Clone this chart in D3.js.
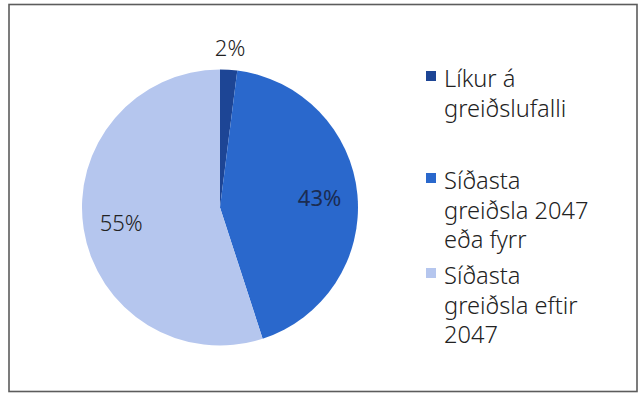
<!DOCTYPE html>
<html>
<head>
<meta charset="utf-8">
<script src="https://cdn.jsdelivr.net/npm/d3@7"></script>
<style>
  html, body { margin: 0; padding: 0; background: #fff; }
  svg { display: block; }
  text { font-family: "Noto Sans", "DejaVu Sans", sans-serif; font-weight: 300; }
</style>
</head>
<body>
<svg id="chart" width="640" height="394"></svg>
<script>
// Shares of the loan portfolio (percent)
const categories = ["Líkur á greiðslufalli", "Síðasta greiðsla 2047 eða fyrr", "Síðasta greiðsla eftir 2047"];
const values = [2, 43, 55];
const valueLabels = ["2%", "43%", "55%"];
// Legend text, one array of lines per category
const legendLines = [
  ["Líkur á", "greiðslufalli"],
  ["Síðasta", "greiðsla 2047", "eða fyrr"],
  ["Síðasta", "greiðsla eftir", "2047"]
];
const colors = ["#1d4595", "#2a68cc", "#b5c6ee"];
const labelColors = ["#222", "#1b2c52", "#222"];

const svg = d3.select("#chart");

// frame
svg.append("rect")
  .attr("x", 9).attr("y", 4.5)
  .attr("width", 628).attr("height", 387)
  .attr("fill", "#fff")
  .attr("stroke", "#5c5c5c")
  .attr("stroke-width", 1.6);

const cx = 220, cy = 207.5, R = 138;
const g = svg.append("g").attr("transform", `translate(${cx},${cy})`);

const pie = d3.pie().sort(null).value(d => d)(values);
const arc = d3.arc().innerRadius(0).outerRadius(R);

g.selectAll("path.slice")
  .data(pie)
  .join("path")
  .attr("class", "slice")
  .attr("d", arc)
  .attr("fill", (d, i) => colors[i]);

// value labels: the small slice is labelled outside, the others inside
const inner = d3.arc().innerRadius(100).outerRadius(100);
const outer = d3.arc().innerRadius(160).outerRadius(160);
g.selectAll("text.val")
  .data(pie)
  .join("text")
  .attr("class", "val")
  .attr("transform", (d, i) => {
    const c = (d.data < 5 ? outer : inner).centroid(d);
    return `translate(${c[0]},${c[1]})`;
  })
  .attr("text-anchor", "middle")
  .attr("dy", "0.36em")
  .attr("font-size", 22)
  .style("font-weight", (d, i) => i === 1 ? 400 : 300)
  .attr("fill", (d, i) => labelColors[i])
  .text((d, i) => valueLabels[i]);

// legend
const legendX = 426, lineH = 29.5;
const itemTops = [87, 189, 284];
const leg = svg.append("g");
categories.forEach((c, i) => {
  const item = leg.append("g");
  item.append("rect")
    .attr("x", legendX).attr("y", itemTops[i] - 16)
    .attr("width", 10).attr("height", 10)
    .attr("fill", colors[i]);
  const t = item.append("text")
    .attr("x", legendX + 18).attr("y", itemTops[i])
    .attr("font-size", 23.6)
    .attr("fill", "#222");
  legendLines[i].forEach((ln, j) => {
    t.append("tspan").attr("x", legendX + 18).attr("y", itemTops[i] + j * lineH).text(ln);
  });
});
</script>
</body>
</html>
